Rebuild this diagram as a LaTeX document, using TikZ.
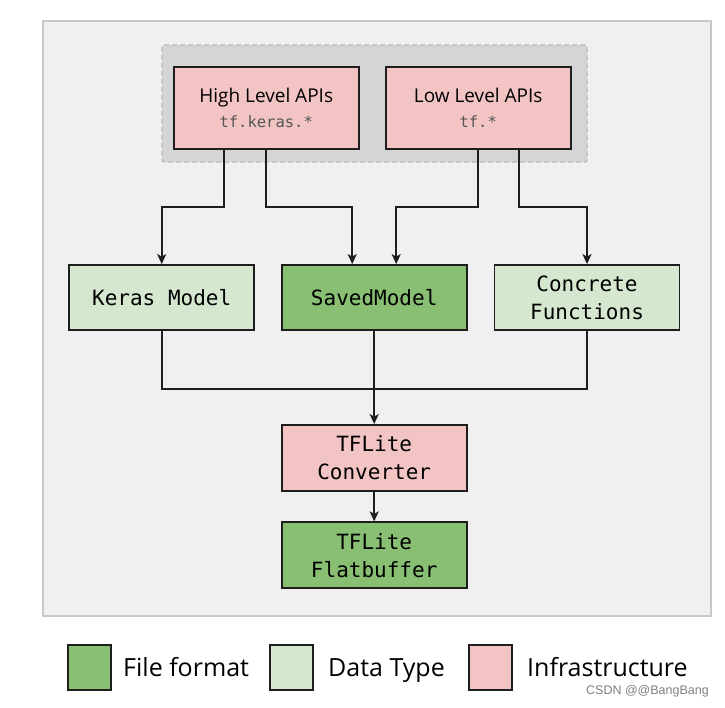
\documentclass[tikz,border=0pt]{standalone}
\usepackage{fontspec}
\setmainfont{Open Sans}
\newfontfamily\boxmono{DejaVu Sans Mono}
\newfontfamily\wmfont{Liberation Sans}
\usetikzlibrary{arrows.meta,calc}
\definecolor{pinkc}{HTML}{F2C4C4}
\definecolor{lgreen}{HTML}{D5E8CF}
\definecolor{dgreen}{HTML}{88BF72}
\definecolor{outerfill}{HTML}{F0F0F0}
\definecolor{outerdraw}{HTML}{C8C8C8}
\definecolor{grpfill}{HTML}{D5D5D5}
\definecolor{grpdraw}{HTML}{B8B8B8}
\definecolor{edgec}{HTML}{1E1E1E}
\definecolor{subc}{HTML}{555555}
\tikzset{
  box/.style={draw=edgec, line width=1.8pt, minimum width=185pt, align=center, inner sep=0pt},
  apibox/.style={box, fill=pinkc, minimum height=82pt, font=\fontsize{19}{25}\selectfont},
  rowbox/.style={box, minimum height=65pt, font=\boxmono\fontsize{21}{28}\selectfont},
  conn/.style={draw=edgec, line width=1.6pt},
  arr/.style={conn, -{Stealth[length=10pt,width=9pt,inset=2.5pt]}},
  legsq/.style={draw=edgec, line width=1.6pt, minimum width=43pt, minimum height=45pt, inner sep=0pt},
  legtxt/.style={anchor=base west, font=\fontsize{25}{30}\selectfont, inner sep=0pt}
}
\begin{document}
\begin{tikzpicture}[x=1pt,y=-1pt]
\useasboundingbox (0,0) rectangle (725,708);
\fill[white] (0,0) rectangle (725,708);
\draw[outerdraw, fill=outerfill, line width=1.5pt] (43,21) rectangle (711,616);
\draw[grpdraw, fill=grpfill, line width=1.3pt, dash pattern=on 5pt off 3pt, rounded corners=2pt] (162,45) rectangle (587,162);

\node[apibox] (high) at (266.2,108) {High Level APIs\\{\boxmono\fontsize{15.5}{25}\selectfont\color{subc}tf.keras.*}};
\node[apibox] (low) at (478.2,108) {Low Level APIs\\{\boxmono\fontsize{15.5}{25}\selectfont\color{subc}tf.*}};

\node[rowbox, fill=lgreen] (keras) at (161.7,297.5) {Keras Model};
\node[rowbox, fill=dgreen] (saved) at (374.2,297.5) {SavedModel};
\node[rowbox, fill=lgreen] (concrete) at (587,297.5) {Concrete\\Functions};

\node[rowbox, fill=pinkc, minimum height=66pt] (conv) at (374.2,458) {TFLite\\Converter};
\node[rowbox, fill=dgreen, minimum height=66pt] (flat) at (374.2,555.3) {TFLite\\Flatbuffer};

\draw[arr] ([xshift=-42pt]high.south) -- ++(0,57) -| (keras.north);
\draw[arr] (high.south) -- ++(0,57) -| ([xshift=-22pt]saved.north);
\draw[arr] (low.south) -- ++(0,57) -| ([xshift=22pt]saved.north);
\draw[arr] ([xshift=41pt]low.south) -- ++(0,57) -| (concrete.north);

\draw[conn] (keras.south) -- ++(0,58) -| (concrete.south);
\draw[arr] (saved.south) -- (conv.north);
\draw[arr] (conv.south) -- (flat.north);

\node[legsq, fill=dgreen] (lg1) at (89.5,667.5) {};
\node[legtxt] (lt1) at (123,676) {File format};
\node[legsq, fill=lgreen] (lg2) at (291.5,667.5) {};
\node[legtxt] (lt2) at (328,676) {Data Type};
\node[legsq, fill=pinkc] (lg3) at (490.5,667.5) {};
\node[legtxt] (lt3) at (527,676) {Infrastructure};

\node[anchor=east, font=\wmfont\fontsize{12.5}{14}\selectfont, text=gray, inner sep=0pt] (wm) at (709,691) {CSDN @@BangBang};
\end{tikzpicture}
\end{document}
